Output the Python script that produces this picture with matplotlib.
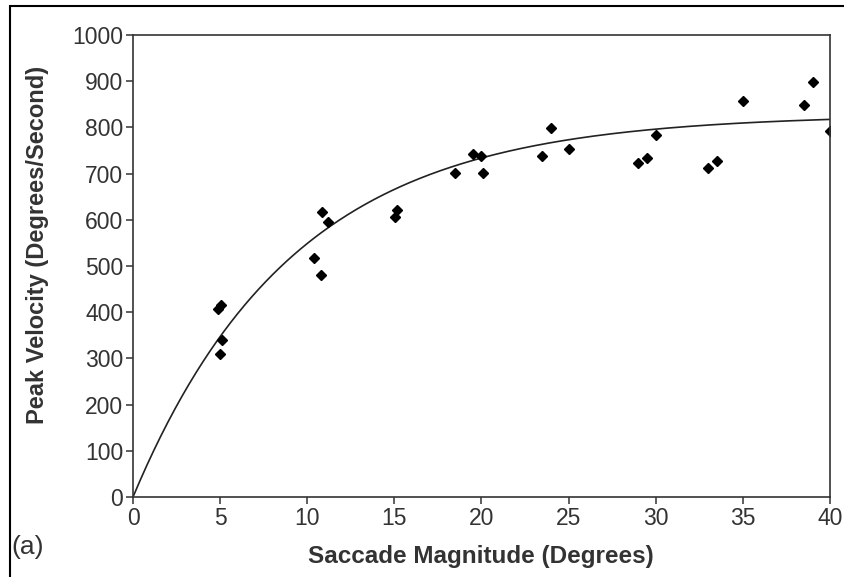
import numpy as np
import matplotlib
matplotlib.use("Agg")
import matplotlib.pyplot as plt
from matplotlib.patches import Rectangle

# Data
magnitude = [4.9, 5.05, 5.1, 5.0, 10.4, 10.8, 10.83, 11.2, 15.03, 15.13,
             18.5, 19.5, 20.0, 20.1, 23.5, 24.0, 25.0, 29.0, 29.5, 30.0,
             33.0, 33.5, 35.0, 38.5, 39.0, 40.0]
velocity = [406, 416, 340, 309, 517, 481, 617, 596, 606, 622,
            702, 743, 738, 702, 738, 798, 753, 723, 733, 783,
            712, 728, 858, 848, 898, 793]

# Fitted main-sequence curve: V = vmax * (1 - exp(-A / tau))
vmax = 828
tau = 9.2

xticks = [0, 5, 10, 15, 20, 25, 30, 35, 40]
yticks = [0, 100, 200, 300, 400, 500, 600, 700, 800, 900, 1000]

fig = plt.figure(figsize=(8.45, 5.77), dpi=100)
ax = fig.add_axes([133/845, 1-497/577, (830-133)/845, (497-35)/577])

xs = np.linspace(0, 40, 400)
ax.plot(xs, vmax * (1 - np.exp(-xs / tau)), color="#222222", lw=1.2)
ax.plot(magnitude, velocity, linestyle="none", marker="D", markersize=5,
        color="black")

ax.set_xlim(0, 40)
ax.set_ylim(0, 1000)
ax.set_xticks(xticks)
ax.set_yticks(yticks)
tick_font = dict(family="Liberation Sans", size=16.5, color="#333333")
ax.set_xticklabels([str(t) for t in xticks], **tick_font)
ax.set_yticklabels([str(t) for t in yticks], **tick_font)
ax.tick_params(direction="out", length=5, width=1.1, color="#333333", pad=2)
for s in ax.spines.values():
    s.set_linewidth(1.2)
    s.set_color("#333333")

fig.text(38/845, 1-245/577, "Peak Velocity (Degrees/Second)", rotation=90,
         ha="center", va="center", fontsize=17, fontweight="bold",
         family="Liberation Sans", color="#333333")
fig.text(481/845, 1-557/577, "Saccade Magnitude (Degrees)",
         ha="center", va="center", fontsize=17.5, fontweight="bold",
         family="Liberation Sans", color="#333333")
fig.text(11/845, 1-547/577, "(a)", ha="left", va="center", fontsize=19,
         family="Liberation Sans", color="#333333")

fig.patches.append(Rectangle((10/845, -0.1), 1.2, 1 - 6/577 + 0.1,
                             transform=fig.transFigure, fill=False,
                             edgecolor="black", lw=1.5))

fig.savefig("out.png", dpi=100)
